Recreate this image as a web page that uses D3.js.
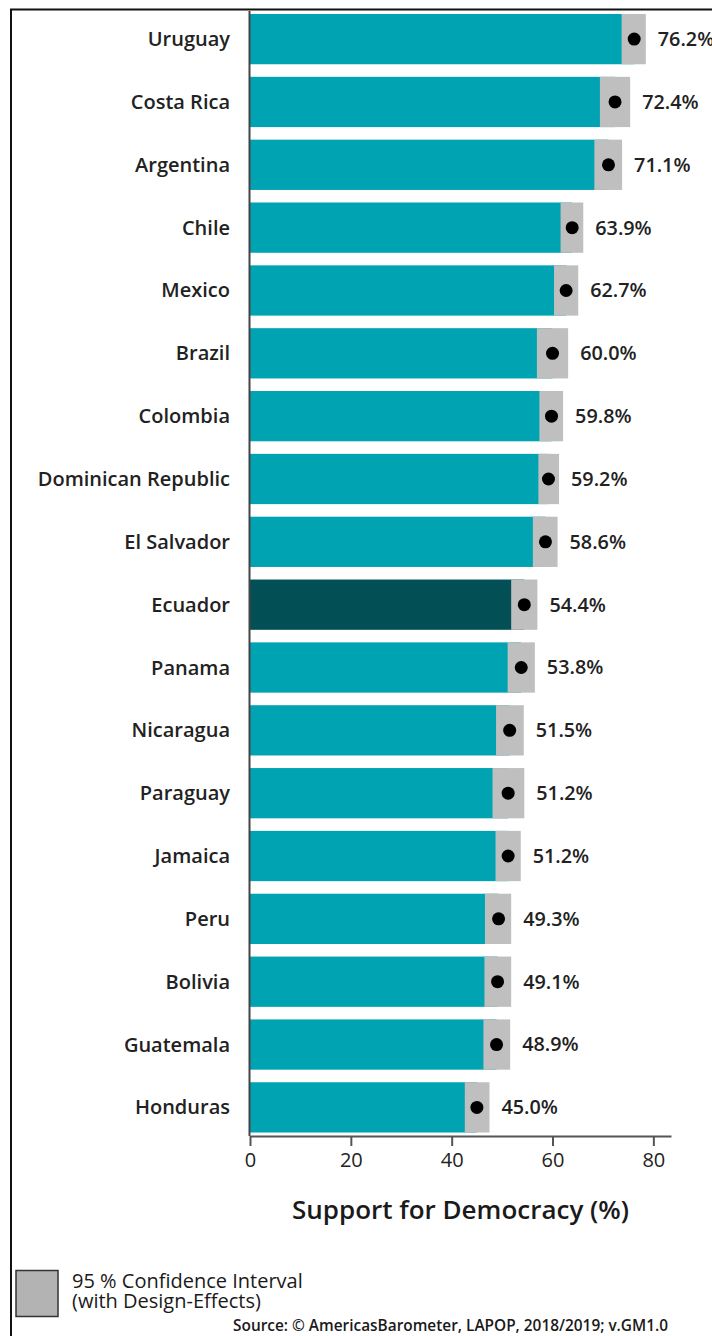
<!DOCTYPE html>
<html>
<head>
<meta charset="utf-8">
<script src="https://cdn.jsdelivr.net/npm/d3@7"></script>
<style>
  html, body { margin: 0; padding: 0; background: #fff; }
  svg { display: block; }
  text { font-family: "Open Sans", "Noto Sans", sans-serif; }
</style>
</head>
<body>
<script>
const countries = ["Uruguay","Costa Rica","Argentina","Chile","Mexico","Brazil","Colombia","Dominican Republic","El Salvador","Ecuador","Panama","Nicaragua","Paraguay","Jamaica","Peru","Bolivia","Guatemala","Honduras"];
const support = [76.2,72.4,71.1,63.9,62.7,60.0,59.8,59.2,58.6,54.4,53.8,51.5,51.2,51.2,49.3,49.1,48.9,45.0];
const ciLower = [73.7,69.4,68.3,61.6,60.3,56.9,57.4,57.2,56.1,51.8,51.1,48.8,48.1,48.7,46.6,46.5,46.3,42.6];
const ciUpper = [78.5,75.4,73.8,66.1,65.1,63.1,62.1,61.3,61.0,57.0,56.5,54.3,54.4,53.7,51.8,51.8,51.6,47.5];
const highlighted = ["Ecuador"];
const xTicks = [0,20,40,60,80];
const xTitle = "Support for Democracy (%)";
const legendLines = ["95 % Confidence Interval","(with Design-Effects)"];
const sourceText = "Source: \u00A9 AmericasBarometer, LAPOP, 2018/2019; v.GM1.0";

const W = 712, H = 1336;
const data = countries.map((c,i) => ({country:c, value:support[i], lo:ciLower[i], hi:ciUpper[i]}));

const svg = d3.select("body").append("svg").attr("width", W).attr("height", H);

// outer frame (extends beyond the visible area on right/bottom)
svg.append("rect").attr("x", 11).attr("y", 9.5).attr("width", 900).attr("height", 1500)
  .attr("fill", "none").attr("stroke", "#111").attr("stroke-width", 2);

const x = d3.scaleLinear().domain([0, 83.5]).range([250, 671]);
const y = d3.scaleBand().domain(countries).range([7.7, 1138.8]).paddingInner(0.2).paddingOuter(0.1);
const axisY = 1136;

const teal = "#00a3b1", dark = "#024f56", grey = "#bfbfbf";

// bars
svg.append("g").selectAll("rect").data(data).join("rect")
  .attr("x", x(0)).attr("y", d => y(d.country))
  .attr("width", d => x(d.value) - x(0)).attr("height", y.bandwidth())
  .attr("fill", d => highlighted.includes(d.country) ? dark : teal);

// CI rects
svg.append("g").selectAll("rect").data(data).join("rect")
  .attr("x", d => x(d.lo)).attr("y", d => y(d.country))
  .attr("width", d => x(d.hi) - x(d.lo)).attr("height", y.bandwidth())
  .attr("fill", grey);

// dots
svg.append("g").selectAll("circle").data(data).join("circle")
  .attr("cx", d => x(d.value)).attr("cy", d => y(d.country) + y.bandwidth()/2)
  .attr("r", 6.5).attr("fill", "#000");

// value labels
svg.append("g").selectAll("text").data(data).join("text")
  .attr("x", d => x(d.hi) + 12).attr("y", d => y(d.country) + y.bandwidth()/2)
  .attr("dy", "0.35em").attr("font-size", 19.8).attr("font-weight", 600).attr("fill", "#222")
  .text(d => d.value.toFixed(1) + "%");

// country labels
svg.append("g").selectAll("text").data(data).join("text")
  .attr("x", 230).attr("y", d => y(d.country) + y.bandwidth()/2)
  .attr("dy", "0.35em").attr("text-anchor", "end")
  .attr("font-size", 20).attr("font-weight", 600).attr("fill", "#222")
  .text(d => d.country);

// left axis line
svg.append("line").attr("x1", 249.5).attr("x2", 249.5).attr("y1", 11).attr("y2", axisY)
  .attr("stroke", "#444").attr("stroke-width", 2);

// x axis
const xAxis = d3.axisBottom(x).tickValues(xTicks).tickSize(10).tickSizeOuter(0).tickPadding(7);
const gx = svg.append("g").attr("transform", `translate(0,${axisY})`).call(xAxis);
gx.select(".domain").attr("stroke", "#555").attr("stroke-width", 2);
gx.selectAll(".tick line").attr("stroke", "#555").attr("stroke-width", 2);
gx.selectAll(".tick text").attr("font-size", 20).attr("font-family", "'Open Sans', sans-serif")
  .attr("fill", "#222");

svg.append("text").attr("x", (x(0) + x(83.5))/2).attr("y", 1219)
  .attr("text-anchor", "middle").attr("font-size", 26).attr("font-weight", 600).attr("fill", "#1a1a1a")
  .text(xTitle);

// legend
svg.append("rect").attr("x", 16).attr("y", 1270.5).attr("width", 42).attr("height", 46)
  .attr("fill", "#b3b3b3").attr("stroke", "#333").attr("stroke-width", 1.5);
svg.append("g").selectAll("text").data(legendLines).join("text")
  .attr("x", 72).attr("y", (d,i) => 1288 + i*19.5)
  .attr("font-size", 20).attr("font-weight", 500).attr("fill", "#1a1a1a")
  .text(d => d);

svg.append("text").attr("x", 668).attr("y", 1331).attr("text-anchor", "end")
  .attr("font-size", 15.4).attr("font-weight", 600).attr("fill", "#1a1a1a")
  .text(sourceText);
</script>
</body>
</html>
